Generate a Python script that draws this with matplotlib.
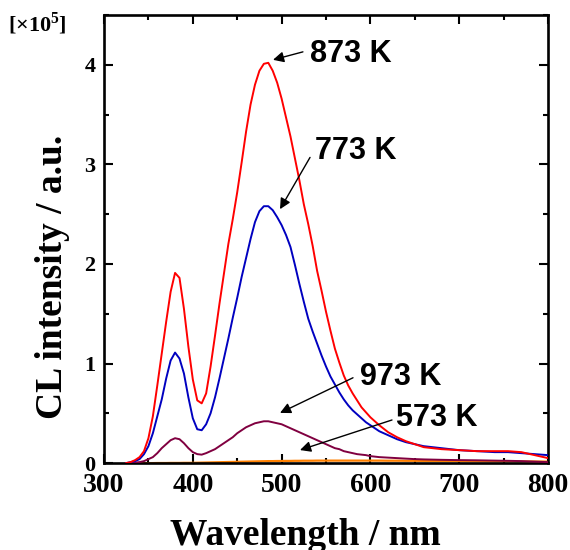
import matplotlib
matplotlib.use("Agg")
import matplotlib.pyplot as plt
from matplotlib.ticker import MultipleLocator

plt.rcParams['mathtext.fontset'] = 'custom'
plt.rcParams['mathtext.rm'] = 'Liberation Serif:bold'
plt.rcParams['mathtext.bf'] = 'Liberation Serif:bold'

# ---- data (wavelength in nm, intensity in 1e5 a.u.) ----
wavelength = [325, 330, 335, 340, 345, 350, 355, 360, 365, 370,
              375, 380, 385, 390, 395, 400, 405, 410, 415, 420,
              425, 430, 435, 440, 445, 450, 455, 460, 465, 470,
              475, 480, 485, 490, 495, 500, 505, 510, 515, 520,
              525, 530, 535, 540, 545, 550, 555, 560, 565, 570,
              575, 580, 585, 590, 595, 600,
              610, 620, 630, 640, 650,
              660, 680, 700, 720, 740, 755, 770, 785, 800]

int_873K = [0.0, 0.01, 0.03, 0.06, 0.12, 0.25, 0.47, 0.78, 1.10, 1.42,
            1.72, 1.91, 1.86, 1.55, 1.17, 0.84, 0.63, 0.60, 0.70, 0.97,
            1.28, 1.60, 1.90, 2.20, 2.45, 2.72, 3.02, 3.33, 3.60, 3.80,
            3.94, 4.01, 4.02, 3.94, 3.82, 3.66, 3.47, 3.28, 3.06, 2.84,
            2.60, 2.40, 2.18, 1.93, 1.73, 1.52, 1.33, 1.15, 1.01, 0.88,
            0.78, 0.70, 0.63, 0.56, 0.51, 0.46,
            0.38, 0.31, 0.26, 0.22, 0.19,
            0.16, 0.14, 0.13, 0.12, 0.12, 0.12, 0.11, 0.08, 0.05]

int_773K = [0.0, 0.01, 0.02, 0.04, 0.09, 0.17, 0.30, 0.47, 0.64, 0.85,
            1.03, 1.11, 1.05, 0.90, 0.66, 0.45, 0.34, 0.33, 0.39, 0.50,
            0.66, 0.85, 1.05, 1.25, 1.46, 1.66, 1.87, 2.06, 2.25, 2.42,
            2.53, 2.58, 2.58, 2.54, 2.47, 2.39, 2.29, 2.17, 1.99, 1.80,
            1.62, 1.45, 1.32, 1.20, 1.08, 0.97, 0.87, 0.79, 0.71, 0.64,
            0.58, 0.53, 0.49, 0.45, 0.41, 0.38,
            0.32, 0.28, 0.24, 0.21, 0.19,
            0.17, 0.15, 0.13, 0.12, 0.11, 0.11, 0.10, 0.09, 0.08]

int_973K = [0.0, 0.0, 0.005, 0.01, 0.02, 0.04, 0.06, 0.10, 0.15, 0.19,
            0.23, 0.25, 0.24, 0.20, 0.15, 0.11, 0.09, 0.085, 0.10, 0.12,
            0.14, 0.17, 0.20, 0.23, 0.26, 0.30, 0.33, 0.36, 0.38, 0.40,
            0.41, 0.42, 0.42, 0.41, 0.40, 0.39, 0.37, 0.35, 0.33, 0.31,
            0.29, 0.27, 0.25, 0.23, 0.21, 0.19, 0.17, 0.15, 0.14, 0.12,
            0.11, 0.10, 0.09, 0.085, 0.08, 0.07,
            0.06, 0.055, 0.05, 0.045, 0.04,
            0.037, 0.033, 0.03, 0.028, 0.025, 0.023, 0.02, 0.015, 0.01]

int_573K = [0.0, 0.0, 0.0, 0.0, 0.0, 0.0, 0.0, 0.001, 0.001, 0.001,
            0.002, 0.002, 0.002, 0.003, 0.003, 0.003, 0.004, 0.005, 0.006, 0.007,
            0.008, 0.009, 0.010, 0.011, 0.012, 0.013, 0.014, 0.015, 0.016, 0.017,
            0.018, 0.019, 0.020, 0.020, 0.021, 0.021, 0.022, 0.022, 0.023, 0.023,
            0.024, 0.024, 0.024, 0.025, 0.025, 0.025, 0.025, 0.025, 0.025, 0.025,
            0.025, 0.025, 0.025, 0.025, 0.025, 0.025,
            0.025, 0.024, 0.024, 0.023, 0.023,
            0.022, 0.021, 0.020, 0.019, 0.018, 0.018, 0.017, 0.016, 0.015]

labels = ["873 K", "773 K", "973 K", "573 K"]
label_pos = [(532, 4.11), (537.6, 3.135), (588.3, 0.867), (628.8, 0.454)]
arrow_tail = [(524, 4.13), (532, 3.07), (580.4, 0.857), (624.3, 0.433)]
arrow_head = [(490.3, 4.05), (498.2, 2.55), (498.2, 0.504), (520.7, 0.131)]

xticks = [300, 400, 500, 600, 700, 800]
yticks = [0, 1, 2, 3, 4]

# ---- figure ----
fig = plt.figure(figsize=(5.7, 5.5), dpi=100)
ax = fig.add_axes([0.1825, 0.158, 0.9614 - 0.1825, 0.9727 - 0.158])

ax.plot(wavelength, int_573K, color='#FF8000', lw=1.6, zorder=2)
ax.plot(wavelength, int_973K, color='#800040', lw=1.4, zorder=3)
ax.plot(wavelength, int_773K, color='#0000C0', lw=1.4, zorder=4)
ax.plot(wavelength, int_873K, color='#FF0000', lw=1.4, zorder=5)

ax.set_xlim(300, 800)
ax.set_ylim(0, 4.5)
ax.set_xticks(xticks)
ax.set_yticks(yticks)
ax.xaxis.set_minor_locator(MultipleLocator(50))
ax.yaxis.set_minor_locator(MultipleLocator(0.5))
ax.tick_params(which='both', direction='in', top=True, right=True, width=1.5)
ax.tick_params(which='major', length=6.5)
ax.tick_params(which='minor', length=3.5)
ax.tick_params(axis='x', which='major', pad=7)
ax.tick_params(axis='y', which='major', pad=6)
for s in ax.spines.values():
    s.set_linewidth(1.9)

for lab in ax.get_xticklabels():
    lab.set_fontfamily('Liberation Serif')
    lab.set_fontweight('bold')
    lab.set_fontsize(20)
for lab in ax.get_yticklabels():
    lab.set_fontfamily('Liberation Serif')
    lab.set_fontweight('bold')
    lab.set_fontsize(16)

for text, pos, tail, head in zip(labels, label_pos, arrow_tail, arrow_head):
    ax.annotate('', xy=head, xytext=tail,
                arrowprops=dict(arrowstyle='-|>', color='black', lw=1.0,
                                mutation_scale=16, shrinkA=0, shrinkB=0),
                zorder=6)
    ax.text(pos[0], pos[1], text, fontfamily='Liberation Sans', fontweight='bold',
            fontsize=22, ha='left', va='center', zorder=7)

fig.text(305 / 570, 1 - 545 / 550, 'Wavelength / nm', fontfamily='Liberation Serif',
         fontweight='bold', fontsize=27, ha='center', va='baseline')
fig.text(53 / 570, 1 - 277 / 550, 'CL intensity / a.u.', fontfamily='Liberation Serif',
         fontweight='bold', fontsize=27, ha='center', va='center', rotation=90)
fig.text(8 / 570, 1 - 24 / 550, r'[×10$^{\mathbf{5}}$]', fontfamily='Liberation Serif',
         fontweight='bold', fontsize=16, ha='left', va='center')

fig.savefig('out.png', dpi=100)
